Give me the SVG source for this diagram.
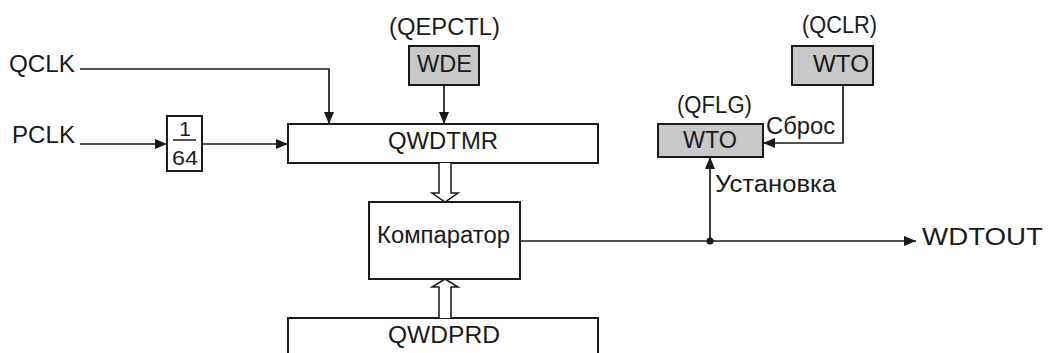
<svg xmlns="http://www.w3.org/2000/svg" width="1048" height="353" viewBox="0 0 1048 353">
<style>
text{font-family:"Liberation Sans",Arial,sans-serif;font-size:23px;fill:#1a1a1a}
.box{fill:#fff;stroke:#1a1a1a;stroke-width:2}
.reg{fill:#c8c8c8;stroke:#1a1a1a;stroke-width:2}
.ln{fill:none;stroke:#1a1a1a;stroke-width:1.7}
.hol{fill:#fff;stroke:#1a1a1a;stroke-width:1.5}
</style>
<defs>
<marker id="ah" viewBox="0 0 12 10" refX="12" refY="5" markerWidth="12" markerHeight="10" markerUnits="userSpaceOnUse" orient="auto">
<path d="M0,0 L12,5 L0,10 z" fill="#1a1a1a"/>
</marker>
</defs>
<g id="labels">
<text x="9" y="72" textLength="66" lengthAdjust="spacingAndGlyphs">QCLK</text>
<text x="12" y="143" textLength="63" lengthAdjust="spacingAndGlyphs">PCLK</text>
<text x="922" y="245" textLength="121" lengthAdjust="spacingAndGlyphs">WDTOUT</text>
</g>
<g id="div64">
<rect class="box" x="167" y="116" width="35" height="55"/>
<line x1="173" y1="140" x2="196" y2="140" stroke="#1a1a1a" stroke-width="1.5"/>
<text x="185" y="136" text-anchor="middle" style="font-size:21px">1</text>
<text x="185" y="165" text-anchor="middle" style="font-size:21px" textLength="26" lengthAdjust="spacingAndGlyphs">64</text>
</g>
<g id="wde">
<text x="389" y="35" textLength="111" lengthAdjust="spacingAndGlyphs">(QEPCTL)</text>
<rect class="reg" x="409" y="46" width="70" height="39"/>
<text x="417" y="72" textLength="55" lengthAdjust="spacingAndGlyphs">WDE</text>
</g>
<g id="qwdtmr">
<rect class="box" x="288" y="124" width="310" height="39"/>
<text x="388" y="149" textLength="110" lengthAdjust="spacingAndGlyphs">QWDTMR</text>
</g>
<g id="comparator">
<rect class="box" x="369" y="202" width="151" height="77"/>
<text x="377" y="243" textLength="133" lengthAdjust="spacingAndGlyphs">Компаратор</text>
</g>
<g id="qwdprd">
<path class="box" d="M288,360 V318 H598 V360"/>
<text x="388" y="343" textLength="112" lengthAdjust="spacingAndGlyphs">QWDPRD</text>
</g>
<g id="qflg">
<text x="677" y="113" textLength="75" lengthAdjust="spacingAndGlyphs">(QFLG)</text>
<rect class="reg" x="658" y="124" width="105" height="33"/>
<text x="683" y="148" textLength="54" lengthAdjust="spacingAndGlyphs">WTO</text>
</g>
<g id="qclr">
<text x="802" y="33" textLength="75" lengthAdjust="spacingAndGlyphs">(QCLR)</text>
<rect class="reg" x="792" y="46" width="81" height="39"/>
<text x="813" y="72" textLength="56" lengthAdjust="spacingAndGlyphs">WTO</text>
</g>
<g id="connectors">
<path class="ln" d="M80,69 H329 V124" marker-end="url(#ah)"/>
<path class="ln" d="M444,85 V124" marker-end="url(#ah)"/>
<path class="ln" d="M80,144 H167" marker-end="url(#ah)"/>
<path class="ln" d="M202,144 H288" marker-end="url(#ah)"/>
<path class="hol" d="M439,163 V193 H432 L445,202 L458,193 H451 V163"/>
<path class="hol" d="M439,318 V287 H432 L445,279 L458,287 H451 V318"/>
<path class="ln" d="M520,241 H916" marker-end="url(#ah)"/>
<circle cx="710" cy="241" r="3.5" fill="#1a1a1a"/>
<path class="ln" d="M710,241 V157" marker-end="url(#ah)"/>
<path class="ln" d="M843,85 V143 H763" marker-end="url(#ah)"/>
<text x="766" y="134" textLength="69" lengthAdjust="spacingAndGlyphs">Сброс</text>
<text x="715" y="192" textLength="121" lengthAdjust="spacingAndGlyphs">Установка</text>
</g>
</svg>
